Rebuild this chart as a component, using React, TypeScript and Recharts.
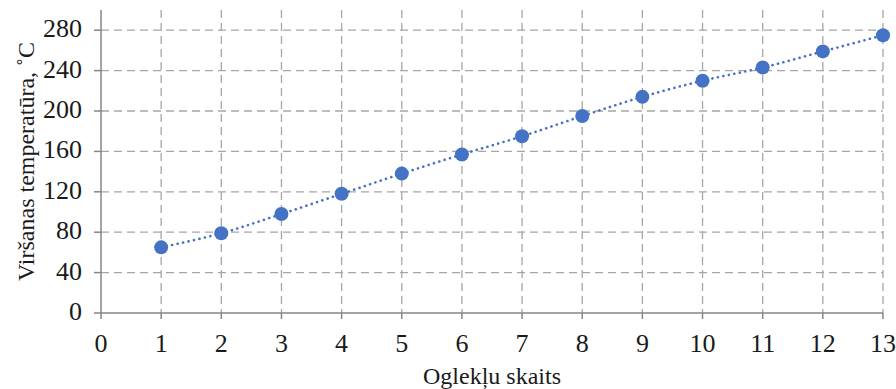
import { LineChart, Line, XAxis, YAxis, CartesianGrid, Label } from 'recharts';

const carbonCounts = [1, 2, 3, 4, 5, 6, 7, 8, 9, 10, 11, 12, 13];
const boilingTemps = [65, 79, 98, 118, 138, 157, 175, 195, 214, 230, 243, 259, 275];
const xTicks = [0, 1, 2, 3, 4, 5, 6, 7, 8, 9, 10, 11, 12, 13];
const yTicks = [0, 40, 80, 120, 160, 200, 240, 280];

const data = carbonCounts.map((x, i) => ({ x, t: boilingTemps[i] }));

const FONT = '"Liberation Serif", "Times New Roman", serif';
const AXIS = '#868686';
const GRID = '#a6a6a6';
const BLUE = '#4472c4';
const TEXT = '#1a1a1a';

function XTick(props: any) {
  const { x, y, payload } = props;
  return (
    <text x={x} y={y} dy={33} textAnchor="middle" fill={TEXT} fontSize={26} fontFamily={FONT}>
      {payload.value}
    </text>
  );
}

function YTick(props: any) {
  const { x, y, payload } = props;
  return (
    <text x={x} y={y} dy={7} textAnchor="end" fill={TEXT} fontSize={26} fontFamily={FONT}>
      {payload.value}
    </text>
  );
}

export default function App() {
  return (
    <div style={{ position: 'absolute', left: 0, top: 0, width: 896, height: 389, background: '#fff' }}>
      <LineChart width={896} height={389} data={data} margin={{ top: 10, right: 13, bottom: 0, left: 0 }}>
        <CartesianGrid stroke={GRID} strokeWidth={1.3} strokeDasharray="8 5" horizontalValues={[40, 80, 120, 160, 200, 240, 280]} verticalValues={carbonCounts} />
        <XAxis
          type="number"
          dataKey="x"
          domain={[0, 13]}
          ticks={xTicks}
          interval={0}
          height={76}
          stroke={AXIS}
          strokeWidth={1.5}
          tickSize={6}
          tickMargin={0}
          tick={<XTick />}
        >
          <Label value="Oglekļu skaits" position="insideBottom" offset={5} style={{ fill: TEXT, fontSize: 24, fontFamily: FONT }} />
        </XAxis>
        <YAxis
          type="number"
          domain={[0, 300]}
          ticks={yTicks}
          interval={0}
          width={101}
          stroke={AXIS}
          strokeWidth={1.5}
          tickSize={7}
          tickMargin={12}
          tick={<YTick />}
        >
          <Label value="Viršanas temperatūra, ˚C" angle={-90} position="insideLeft" offset={25} style={{ textAnchor: 'middle', fill: TEXT, fontSize: 24, fontFamily: FONT }} />
        </YAxis>
        <Line
          type="monotone"
          dataKey="t"
          stroke={BLUE}
          strokeWidth={2.6}
          strokeDasharray="0.1 5.5"
          strokeLinecap="round"
          dot={{ r: 7, fill: BLUE, stroke: BLUE, strokeWidth: 0 }}
          activeDot={false}
          isAnimationActive={false}
        />
      </LineChart>
    </div>
  );
}
